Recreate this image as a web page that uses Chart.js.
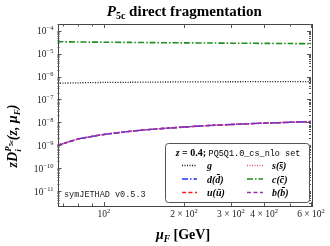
<!DOCTYPE html>
<html><head><meta charset="utf-8">
<script src="https://cdn.jsdelivr.net/npm/chart.js@4/dist/chart.umd.min.js"></script>
<style>html,body{margin:0;padding:0;background:#fff}#wrap{width:330px;height:246px;position:relative}</style>
</head><body><div id="wrap"><canvas id="c" width="330" height="246"></canvas></div>
<script>
// ---- data ----
const muF      = [67, 70, 80, 90, 100, 125, 150, 200, 250, 300, 400, 500, 600];
const gluon    = [5.1e-7, 5.15e-7, 5.3e-7, 5.4e-7, 5.5e-7, 5.6e-7, 5.7e-7, 5.8e-7, 5.85e-7, 5.9e-7, 5.95e-7, 6.0e-7, 6.0e-7];
const charm    = [3.3e-5, 3.28e-5, 3.22e-5, 3.18e-5, 3.15e-5, 3.08e-5, 3.02e-5, 2.95e-5, 2.9e-5, 2.85e-5, 2.8e-5, 2.75e-5, 2.72e-5];
const bottom   = [1.0e-9, 1.15e-9, 1.85e-9, 2.4e-9, 2.95e-9, 4.0e-9, 4.9e-9, 6.2e-9, 7.3e-9, 8.0e-9, 9.2e-9, 1.0e-8, 1.08e-8];
const upQ      = [1.0e-9, 1.15e-9, 1.85e-9, 2.4e-9, 2.95e-9, 4.0e-9, 4.9e-9, 6.2e-9, 7.3e-9, 8.0e-9, 9.2e-9, 1.0e-8, 1.08e-8];
const downQ    = [1.0e-9, 1.15e-9, 1.85e-9, 2.4e-9, 2.95e-9, 4.0e-9, 4.9e-9, 6.2e-9, 7.3e-9, 8.0e-9, 9.2e-9, 1.0e-8, 1.08e-8];
const strangeQ = [1.0e-9, 1.15e-9, 1.85e-9, 2.4e-9, 2.95e-9, 4.0e-9, 4.9e-9, 6.2e-9, 7.3e-9, 8.0e-9, 9.2e-9, 1.0e-8, 1.08e-8];
const seriesLabels = ['g', 's(s\u0304)', 'd(d\u0304)', 'c(c\u0304)', 'u(u\u0304)', 'b(b\u0304)'];
const yTickExponents = [-4, -5, -6, -7, -8, -9, -10, -11];
const xTickValues = [100, 200, 300, 400, 600];
const xTickMantissas = ['', '2', '3', '4', '6'];
const xMinorValues = [70, 80, 90, 500];
const legendHeader = ['z = 0.4; ', 'PQ5Q1.0_cs_nlo set'];
const watermark = 'symJETHAD v0.5.3';
const xMin = 67, xMax = 600, yMinExp = -11.655, yMaxExp = -3.707;

const serif = '"Liberation Serif", "Times New Roman", serif';
const mono = '"Liberation Mono", "DejaVu Sans Mono", monospace';

function pts(arr){ return muF.map((x,i)=>({x:x, y:arr[i]})); }
function ds(label, arr, color, dash, w){
  return {label:label, data:pts(arr), borderColor:color, backgroundColor:color, borderDash:dash,
          borderWidth:w||1.4, pointRadius:0, tension:0.3, fill:false};
}
// drawing order: index 0 on top
const datasets = [
  ds(seriesLabels[5], bottom, '#9a30b4', [4,2.5], 1.6),
  ds(seriesLabels[4], upQ, '#ff1a1a', [4,2.5]),
  ds(seriesLabels[2], downQ, '#2030ff', [6,2,1.5,2]),
  ds(seriesLabels[1], strangeQ, '#e05a6a', [1,1.5]),
  ds(seriesLabels[0], gluon, '#111111', [1,1.5], 1.3),
  ds(seriesLabels[3], charm, '#1d8f1d', [6,2,1.5,2], 1.6)
];

function rich(ctx, segs, x, y, align){
  let w = 0;
  for (const s of segs){ ctx.font = s.f; s.w = ctx.measureText(s.t).width; if(!s.na) w += s.w; }
  let cx = align==='center' ? x - w/2 : (align==='right' ? x - w : x);
  for (const s of segs){ ctx.font = s.f; ctx.fillText(s.t, cx, y + (s.dy||0)); if(!s.na) cx += s.w; }
}
const F = (sz, it, bold) => (it?'italic ':'') + (bold?'bold ':'') + sz + 'px ' + serif;

const deco = {
  id:'deco',
  afterDatasetsDraw(chart){
    const ctx = chart.ctx, a = chart.chartArea, xs = chart.scales.x, ys = chart.scales.y;
    ctx.save();
    ctx.textAlign = 'left'; ctx.textBaseline = 'alphabetic'; ctx.fillStyle = '#000';
    // frame
    ctx.strokeStyle = '#444'; ctx.lineWidth = 1;
    ctx.strokeRect(Math.round(a.left)+0.5, Math.round(a.top)+0.5, Math.round(a.right-a.left), Math.round(a.bottom-a.top));
    // x ticks
    ctx.strokeStyle = '#555';
    const xt = (v, len) => { const px = Math.round(xs.getPixelForValue(v))+0.5;
      ctx.beginPath(); ctx.moveTo(px, a.bottom); ctx.lineTo(px, a.bottom-len);
      ctx.moveTo(px, a.top); ctx.lineTo(px, a.top+len); ctx.stroke(); };
    xTickValues.forEach(v=>xt(v,4)); xMinorValues.forEach(v=>xt(v,2.5));
    // y ticks
    const yt = (v, len) => { const py = Math.round(ys.getPixelForValue(v))+0.5;
      if (py < a.top || py > a.bottom) return;
      ctx.beginPath(); ctx.moveTo(a.left, py); ctx.lineTo(a.left+len, py);
      ctx.moveTo(a.right, py); ctx.lineTo(a.right-len, py); ctx.stroke(); };
    for (let e=-12; e<=-3; e++){ yt(Math.pow(10,e),4); for (let m=2;m<=9;m++) yt(m*Math.pow(10,e),2); }
    // y tick labels
    ctx.fillStyle = '#222';
    yTickExponents.forEach(e=>{
      const py = ys.getPixelForValue(Math.pow(10,e));
      rich(ctx, [{t:'10', f:F(9.5)}, {t:'\u2212'+Math.abs(e), f:F(6.5), dy:-4}], a.left-4, py+3.5, 'right');
    });
    // x tick labels
    xTickValues.forEach((v,i)=>{
      const px = xs.getPixelForValue(v);
      const m = xTickMantissas[i];
      const segs = m ? [{t:m+' \u00d7 10', f:F(9.5)}, {t:'2', f:F(6.5), dy:-4}] : [{t:'10', f:F(9.5)}, {t:'2', f:F(6.5), dy:-4}];
      rich(ctx, segs, px, a.bottom+11, 'center');
    });
    ctx.fillStyle = '#000';
    // title
    rich(ctx, [{t:'P', f:F(15,1,1)}, {t:'5c', f:F(10,0,1), dy:3}, {t:' direct fragmentation', f:F(15,0,1)}], (a.left+a.right)/2, 16, 'center');
    // x axis title
    rich(ctx, [{t:'\u03bc', f:F(14,1,1)}, {t:'F', f:F(9.5,1,1), dy:3}, {t:' [GeV]', f:F(14,0,1)}], 183, 239, 'center');
    // y axis title
    ctx.save(); ctx.translate(17, 136); ctx.rotate(-Math.PI/2);
    rich(ctx, [{t:'zD', f:F(14,1,1)}, {t:'i', f:F(9,1,1), dy:4, na:true}, {t:'P', f:F(9,1,1), dy:-6},
               {t:'5c', f:F(6.5,0,1), dy:-4}, {t:'(z, \u03bc', f:F(14,1,1)}, {t:'F', f:F(9,1,1), dy:3},
               {t:')', f:F(14,1,1)}], 0, 0, 'center');
    ctx.restore();
    // watermark
    ctx.fillStyle = '#222'; ctx.font = '8.5px ' + mono;
    ctx.fillText(watermark, 64, 197);
    // legend box
    const bx = 165, by = 143, bw = 144, bh = 59;
    ctx.beginPath(); ctx.roundRect(bx+0.5, by+0.5, bw, bh, 3);
    ctx.fillStyle = '#fff'; ctx.fill(); ctx.strokeStyle = '#555'; ctx.lineWidth = 1; ctx.stroke();
    ctx.fillStyle = '#000';
    rich(ctx, [{t:'z', f:F(10,1,1)}, {t:' = 0.4; ', f:F(10,0,1)}, {t:legendHeader[1], f:'8.5px '+mono}], bx+bw/2+1, 156, 'center');
    const order = [[seriesLabels[0], seriesLabels[1]], [seriesLabels[2], seriesLabels[3]], [seriesLabels[4], seriesLabels[5]]];
    const rowsY = [165.5, 179, 192.5];
    const cols = [[182,197,207],[247,263,272]];
    order.forEach((row,ri)=>row.forEach((lab,ci)=>{
      const d = chart.data.datasets.find(q=>q.label===lab);
      const c = cols[ci], yy = rowsY[ri];
      ctx.save(); ctx.strokeStyle = d.borderColor; ctx.lineWidth = d.borderWidth; ctx.setLineDash(d.borderDash);
      ctx.beginPath(); ctx.moveTo(c[0], yy); ctx.lineTo(c[1], yy); ctx.stroke(); ctx.restore();
      ctx.fillStyle = '#000'; ctx.font = F(10,1,1); ctx.fillText(lab, c[2], yy+3.5);
    }));
    ctx.restore();
  }
};

new Chart(document.getElementById('c'), {
  type:'line',
  data:{datasets:datasets},
  plugins:[deco],
  options:{
    responsive:false, animation:false, devicePixelRatio:1,
    layout:{padding:{left:0, top:24, right:19, bottom:0}},
    plugins:{legend:{display:false}, title:{display:false}, tooltip:{enabled:false}},
    scales:{
      x:{type:'logarithmic', min:xMin, max:xMax, ticks:{display:false}, grid:{display:false}, border:{display:false},
         afterFit(s){ s.height = 40; }},
      y:{type:'logarithmic', min:Math.pow(10,yMinExp), max:Math.pow(10,yMaxExp), ticks:{display:false}, grid:{display:false}, border:{display:false},
         afterFit(s){ s.width = 57.5; }}
    }
  }
});
</script></body></html>
